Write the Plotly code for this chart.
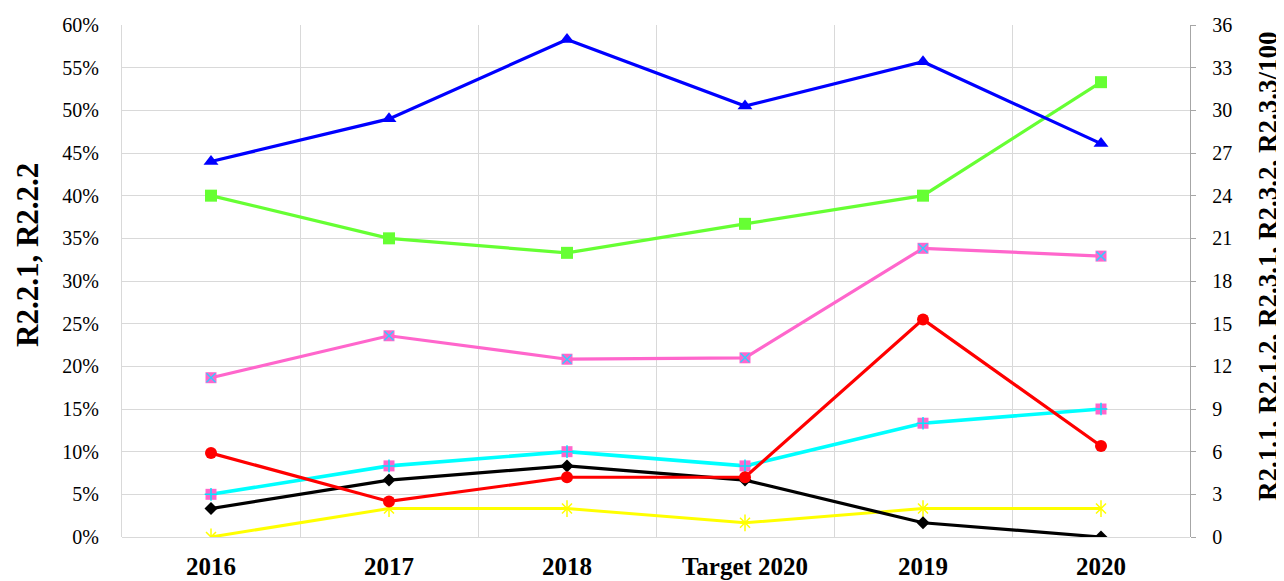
import plotly.graph_objects as go

categories = ["2016", "2017", "2018", "Target 2020", "2019", "2020"]
tick_labels = ["2016", "2017", "2018", "Target 2020", "2019", "2020"]

# Left axis (percent)
blue_vals = [44.0, 49.0, 58.3, 50.5, 55.7, 46.1]
green_vals = [40.0, 35.0, 33.3, 36.7, 40.0, 53.3]
# Right axis (units)
pink_vals = [11.2, 14.15, 12.5, 12.6, 20.3, 19.75]
cyan_vals = [3, 5, 6, 5, 8, 9]
yellow_vals = [0, 2, 2, 1, 2, 2]
black_vals = [2, 4, 5, 4, 1, 0]
red_vals = [5.9, 2.5, 4.2, 4.2, 15.3, 6.4]

left_ticks = list(range(0, 61, 5))
left_labels = [f"{v}%" for v in left_ticks]
right_ticks = list(range(0, 37, 3))
right_labels = [str(v) for v in right_ticks]

FONT = "Liberation Serif"
GRID = "#D9D9D9"

fig = go.Figure()

def line_trace(y, color, symbol, size, axis, mcolor=None, width=3.2):
    return go.Scatter(
        x=categories, y=y, mode="lines+markers", yaxis=axis,
        line=dict(color=color, width=width),
        marker=dict(symbol=symbol, size=size, color=mcolor or color,
                    line=dict(width=0)),
        showlegend=False, hoverinfo="skip",
    )

def overlay(y, color, symbol, size, axis, width=1.5):
    return go.Scatter(
        x=categories, y=y, mode="markers", yaxis=axis,
        marker=dict(symbol=symbol, size=size, color=color,
                    line=dict(color=color, width=width)),
        showlegend=False, hoverinfo="skip",
    )

# pink series with square + cyan x
fig.add_trace(line_trace(pink_vals, "#FF66CC", "square", 11, "y2"))
fig.add_trace(overlay(pink_vals, "#33CCFF", "x-thin-open", 9, "y2"))
# cyan series with pink square + cyan cross
fig.add_trace(line_trace(cyan_vals, "#00FFFF", "square", 11, "y2", mcolor="#FF66CC", width=3.6))
fig.add_trace(overlay(cyan_vals, "#00E5FF", "cross-thin-open", 9, "y2"))
# yellow star
fig.add_trace(go.Scatter(x=categories, y=yellow_vals, mode="lines", yaxis="y2",
                         line=dict(color="#FFFF00", width=3), showlegend=False, hoverinfo="skip"))
fig.add_trace(overlay(yellow_vals, "#FFFF00", "x-thin-open", 10, "y2"))
fig.add_trace(overlay(yellow_vals, "#FFFF00", "line-ns-open", 12, "y2"))
# black diamond
fig.add_trace(line_trace(black_vals, "#000000", "diamond", 10, "y2"))
# red circle
fig.add_trace(line_trace(red_vals, "#FF0000", "circle", 12, "y2"))
# green square
fig.add_trace(line_trace(green_vals, "#66FF33", "square", 12, "y"))
# blue triangle
fig.add_trace(line_trace(blue_vals, "#0000FF", "triangle-up", 13, "y"))

fig.update_layout(
    width=1276, height=573,
    margin=dict(l=114, r=94, t=17, b=44, autoexpand=False),
    paper_bgcolor="white", plot_bgcolor="white",
    font=dict(family=FONT, color="black"),
    xaxis=dict(
        type="category", categoryorder="array", categoryarray=categories,
        tickvals=categories, ticktext=tick_labels,
        range=[-0.5, 5.5], tickson="boundaries",
        showgrid=True, gridcolor=GRID, gridwidth=1.3,
        ticks="", showline=False, zeroline=False, automargin=False,
        tickfont=dict(family=FONT, size=25, color="black", weight="bold"),
        ticklabelstandoff=12,
    ),
    yaxis=dict(
        range=[0, 60], tickvals=left_ticks, ticktext=left_labels,
        showgrid=True, gridcolor=GRID, gridwidth=1.3,
        zeroline=True, zerolinecolor=GRID, zerolinewidth=1.3,
        showline=True, linecolor=GRID, linewidth=1.3, automargin=False,
        ticks="", tickfont=dict(family=FONT, size=20, color="black"),
        ticklabelstandoff=18,
    ),
    yaxis2=dict(
        range=[0, 36], tickvals=right_ticks, ticktext=right_labels,
        overlaying="y", side="right",
        showgrid=False, zeroline=False, automargin=False,
        showline=True, linecolor="#A6A6A6", linewidth=1.3,
        ticks="outside", ticklen=5, tickcolor="#A6A6A6", tickwidth=1.3,
        tickfont=dict(family=FONT, size=20, color="black"),
        ticklabelstandoff=12,
    ),
    annotations=[
        dict(text="<b>R2.2.1, R2.2.2</b>", textangle=-90, xref="paper", yref="paper",
             x=(27 - 122) / 1068, y=(537 - 255) / 512, xanchor="center", yanchor="middle",
             showarrow=False, font=dict(family=FONT, size=31, color="black")),
        dict(text="<b>R2.1.1, R2.1.2, R2.3.1, R2.3.2, R2.3.3/100</b>", textangle=-90,
             xref="paper", yref="paper",
             x=(1268 - 122) / 1068, y=(537 - 266) / 512, xanchor="center", yanchor="middle",
             showarrow=False, font=dict(family=FONT, size=27, color="black")),
    ],
)

fig.write_html("out.html")
